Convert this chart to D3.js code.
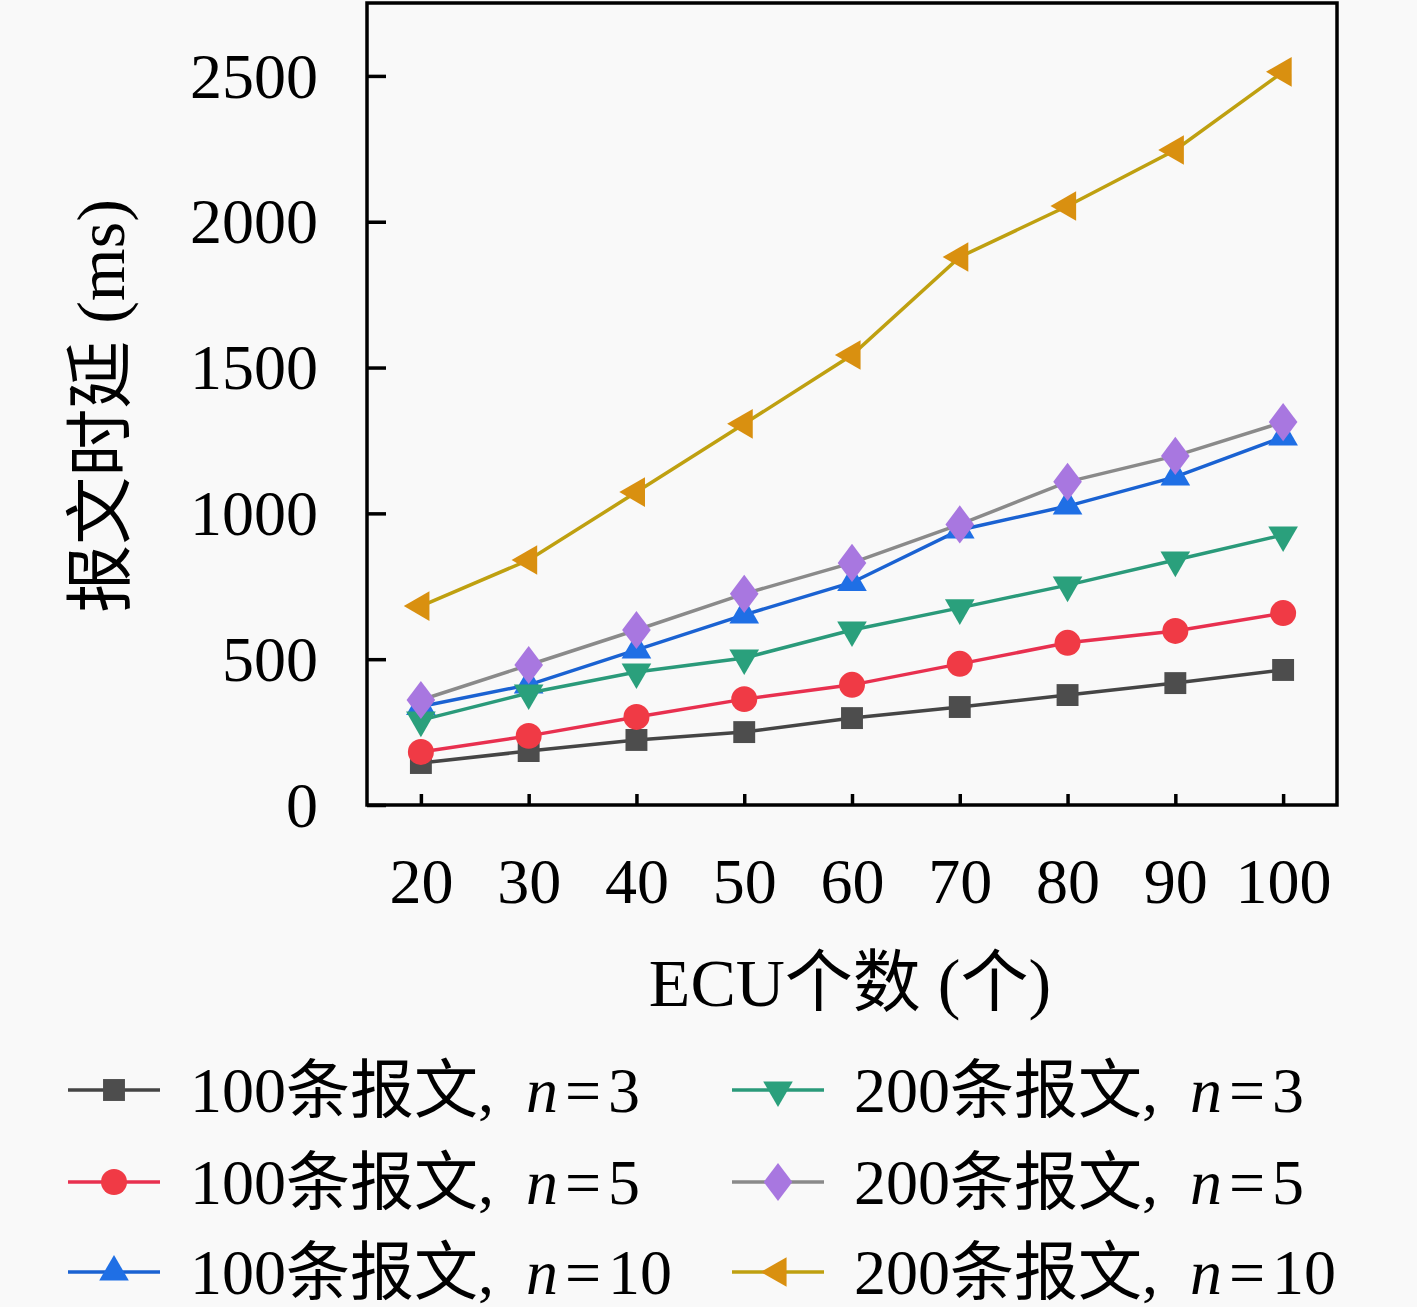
<!DOCTYPE html>
<html>
<head>
<meta charset="utf-8">
<script src="https://cdn.jsdelivr.net/npm/d3@7"></script>
<style>
  html, body { margin: 0; padding: 0; background: #f9f9f9; }
  text { font-family: "Liberation Serif", "Noto Sans CJK SC", serif; fill: #000; }
</style>
</head>
<body>
<script>
// #### DATA ####
var ecuCount = [20, 30, 40, 50, 60, 70, 80, 90, 100];

var msg100n3  = [144, 185, 223, 250, 298, 336, 377, 418, 463];
var msg100n5  = [182, 237, 302, 363, 412, 484, 556, 597, 658];
var msg100n10 = [338, 412, 532, 652, 763, 943, 1025, 1125, 1262];
var msg200n3  = [291, 384, 456, 504, 600, 676, 754, 840, 926];
var msg200n5  = [360, 480, 600, 724, 830, 962, 1108, 1197, 1313];
var msg200n10 = [682, 840, 1073, 1307, 1543, 1879, 2054, 2246, 2514];

var seriesLabels = ["100条报文, ", "100条报文, ", "100条报文, ", "200条报文, ", "200条报文, ", "200条报文, "];
var seriesN = ["3", "5", "10", "3", "5", "10"];

var yTicks = [0, 500, 1000, 1500, 2000, 2500];
var xTicks = [20, 30, 40, 50, 60, 70, 80, 90, 100];

// #### styles ####
var styles = [
  {line: "#454545", fill: "#4d4d4d", shape: d3.symbolSquare,   size: 480, rot: 0, sx: 1},
  {line: "#e8304f", fill: "#f03a45", shape: d3.symbolCircle,   size: 530, rot: 0, sx: 1},
  {line: "#1a62d2", fill: "#1f6fe5", shape: d3.symbolTriangle, size: 380, rot: 0, sx: 1},
  {line: "#2a9a7a", fill: "#2aa07c", shape: d3.symbolTriangle, size: 380, rot: 180, sx: 1},
  {line: "#8a8a8a", fill: "#a877e0", shape: d3.symbolDiamond,  size: 420, rot: 0, sx: 1.3},
  {line: "#bfa010", fill: "#d99010", shape: d3.symbolTriangle, size: 380, rot: -90, sx: 1}
];

var allSeries = [msg100n3, msg100n5, msg100n10, msg200n3, msg200n5, msg200n10];

var width_outer = 1417, height_outer = 1307;
var plot = {left: 367, right: 1337, top: 3, bottom: 805};

var svg = d3.select("body").append("svg")
  .attr("width", width_outer)
  .attr("height", height_outer);

svg.append("rect")
  .attr("width", width_outer).attr("height", height_outer)
  .attr("fill", "#f9f9f9");

var x = d3.scaleLinear().domain([15, 105]).range([plot.left, plot.right]);
var y = d3.scaleLinear().domain([0, 2750]).range([plot.bottom, plot.top]);

// axes (ticks pointing inward)
var xAxis = d3.axisBottom(x).tickValues(xTicks).tickFormat(d3.format("d"))
  .tickSizeInner(-11).tickSizeOuter(0).tickPadding(50);
var yAxis = d3.axisLeft(y).tickValues(yTicks).tickFormat(d3.format("d"))
  .tickSizeInner(-19).tickSizeOuter(0).tickPadding(49);

var gx = svg.append("g")
  .attr("transform", "translate(0," + plot.bottom + ")")
  .call(xAxis);
var gy = svg.append("g")
  .attr("transform", "translate(" + plot.left + ",0)")
  .call(yAxis);

[gx, gy].forEach(function(g) {
  g.select(".domain").remove();
  g.selectAll(".tick line").attr("stroke", "#000").attr("stroke-width", 3.5);
  g.selectAll(".tick text").style("font-size", "64px").attr("fill", "#000");
});
gx.selectAll(".tick text").attr("dy", "0.75em");
gy.selectAll(".tick text").attr("dy", "0.33em");

// frame
svg.append("rect")
  .attr("x", plot.left).attr("y", plot.top)
  .attr("width", plot.right - plot.left).attr("height", plot.bottom - plot.top)
  .attr("fill", "none").attr("stroke", "#000").attr("stroke-width", 3.5);

// lines and markers
var line = d3.line()
  .x(function(d) { return x(d.x); })
  .y(function(d) { return y(d.y); });

function markerTransform(st, px, py) {
  return "translate(" + px + "," + py + ") rotate(" + st.rot + ") scale(" + st.sx + ",1)";
}

allSeries.forEach(function(vals, i) {
  var st = styles[i];
  var pts = vals.map(function(v, j) { return {x: ecuCount[j], y: v}; });
  svg.append("path")
    .datum(pts)
    .attr("fill", "none")
    .attr("stroke", st.line)
    .attr("stroke-width", 3.5)
    .attr("d", line);
  svg.selectAll(".m" + i)
    .data(pts)
    .enter().append("path")
    .attr("class", "m" + i)
    .attr("d", d3.symbol().type(st.shape).size(st.size))
    .attr("transform", function(d) { return markerTransform(st, x(d.x), y(d.y)); })
    .attr("fill", st.fill);
});

// axis titles
svg.append("text")
  .attr("x", 850).attr("y", 1006)
  .attr("text-anchor", "middle")
  .style("font-size", "68px")
  .text("ECU个数 (个)");

svg.append("text")
  .attr("transform", "translate(124,406) rotate(-90)")
  .attr("text-anchor", "middle")
  .style("font-size", "68px")
  .text("报文时延 (ms)");

// legend
var legendCols = [68, 732];
var legendRows = [1090, 1182, 1272];
allSeries.forEach(function(vals, i) {
  var st = styles[i];
  var col = Math.floor(i / 3), row = i % 3;
  var lx = legendCols[col], ly = legendRows[row];
  var g = svg.append("g").attr("transform", "translate(" + lx + "," + ly + ")");
  g.append("line")
    .attr("x1", 0).attr("x2", 92).attr("y1", 0).attr("y2", 0)
    .attr("stroke", st.line).attr("stroke-width", 3.5);
  g.append("path")
    .attr("d", d3.symbol().type(st.shape).size(st.size))
    .attr("transform", markerTransform(st, 46, 0))
    .attr("fill", st.fill);
  var t = g.append("text")
    .attr("x", 122).attr("y", 22)
    .style("font-size", "64px");
  t.append("tspan").text(seriesLabels[i]);
  t.append("tspan").attr("dx", 16).style("font-style", "italic").text("n");
  t.append("tspan").attr("dx", 7).text("=");
  t.append("tspan").attr("dx", 7).text(seriesN[i]);
});
</script>
</body>
</html>
